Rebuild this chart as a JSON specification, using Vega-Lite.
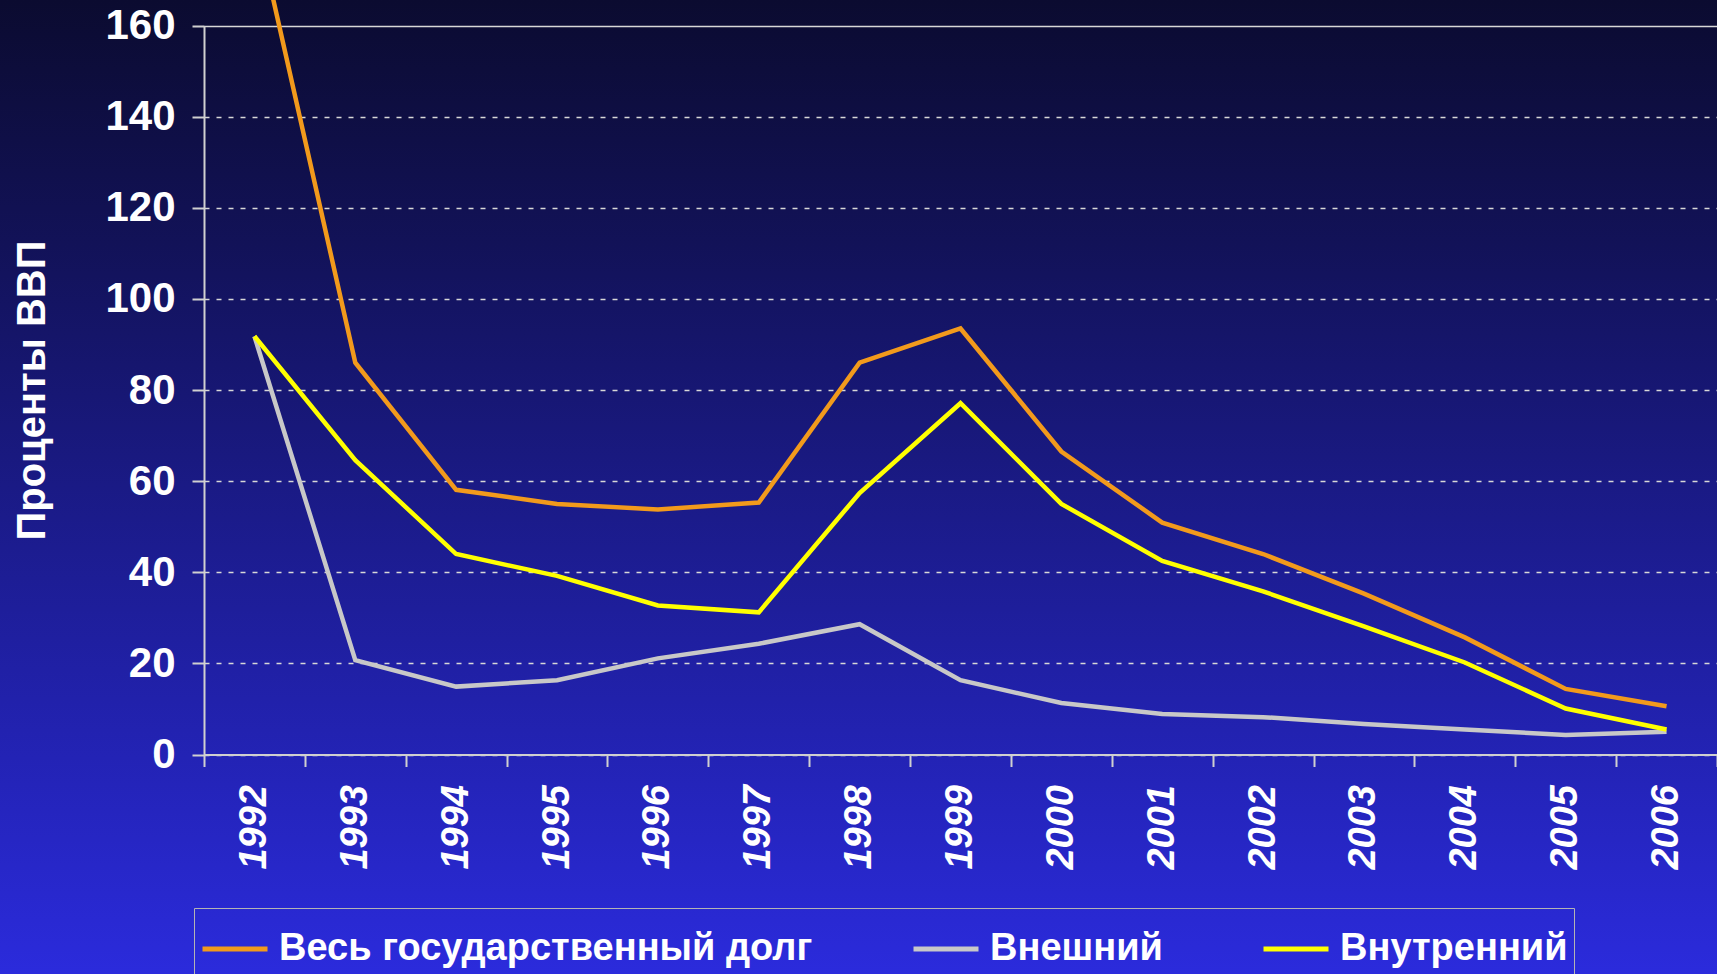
{
  "$schema": "https://vega.github.io/schema/vega-lite/v6.json",
  "width": 1717,
  "height": 974,
  "autosize": {"type": "none"},
  "padding": 0,
  "background": "#1a1a80",
  "config": {
    "font": "Liberation Sans",
    "view": {
      "stroke": null,
      "fill": {
        "gradient": "linear",
        "x1": 0, "y1": 0, "x2": 0, "y2": 1,
        "stops": [
          {"offset": 0, "color": "#0b0b30"},
          {"offset": 0.25, "color": "#121258"},
          {"offset": 0.5, "color": "#1a1a85"},
          {"offset": 0.75, "color": "#2222b0"},
          {"offset": 1, "color": "#2b2bdc"}
        ]
      }
    }
  },
  "data": {
    "values": [
      {"year": "1992", "series": "Весь государственный долг", "value": 184},
      {"year": "1993", "series": "Весь государственный долг", "value": 86},
      {"year": "1994", "series": "Весь государственный долг", "value": 58.1},
      {"year": "1995", "series": "Весь государственный долг", "value": 55},
      {"year": "1996", "series": "Весь государственный долг", "value": 53.8},
      {"year": "1997", "series": "Весь государственный долг", "value": 55.3},
      {"year": "1998", "series": "Весь государственный долг", "value": 86},
      {"year": "1999", "series": "Весь государственный долг", "value": 93.5},
      {"year": "2000", "series": "Весь государственный долг", "value": 66.5},
      {"year": "2001", "series": "Весь государственный долг", "value": 50.9},
      {"year": "2002", "series": "Весь государственный долг", "value": 44},
      {"year": "2003", "series": "Весь государственный долг", "value": 35.3},
      {"year": "2004", "series": "Весь государственный долг", "value": 25.7},
      {"year": "2005", "series": "Весь государственный долг", "value": 14.4},
      {"year": "2006", "series": "Весь государственный долг", "value": 10.6},
      {"year": "1992", "series": "Внешний", "value": 91.8},
      {"year": "1993", "series": "Внешний", "value": 20.7},
      {"year": "1994", "series": "Внешний", "value": 14.9},
      {"year": "1995", "series": "Внешний", "value": 16.3},
      {"year": "1996", "series": "Внешний", "value": 21.1},
      {"year": "1997", "series": "Внешний", "value": 24.3},
      {"year": "1998", "series": "Внешний", "value": 28.6},
      {"year": "1999", "series": "Внешний", "value": 16.3},
      {"year": "2000", "series": "Внешний", "value": 11.3},
      {"year": "2001", "series": "Внешний", "value": 8.9},
      {"year": "2002", "series": "Внешний", "value": 8.2},
      {"year": "2003", "series": "Внешний", "value": 6.7},
      {"year": "2004", "series": "Внешний", "value": 5.5},
      {"year": "2005", "series": "Внешний", "value": 4.3},
      {"year": "2006", "series": "Внешний", "value": 5.0},
      {"year": "1992", "series": "Внутренний", "value": 91.8},
      {"year": "1993", "series": "Внутренний", "value": 64.6},
      {"year": "1994", "series": "Внутренний", "value": 44},
      {"year": "1995", "series": "Внутренний", "value": 39.2},
      {"year": "1996", "series": "Внутренний", "value": 32.7},
      {"year": "1997", "series": "Внутренний", "value": 31.2},
      {"year": "1998", "series": "Внутренний", "value": 57.4},
      {"year": "1999", "series": "Внутренний", "value": 77.1},
      {"year": "2000", "series": "Внутренний", "value": 55},
      {"year": "2001", "series": "Внутренний", "value": 42.5},
      {"year": "2002", "series": "Внутренний", "value": 35.8},
      {"year": "2003", "series": "Внутренний", "value": 28.1},
      {"year": "2004", "series": "Внутренний", "value": 20.2},
      {"year": "2005", "series": "Внутренний", "value": 10.1},
      {"year": "2006", "series": "Внутренний", "value": 5.5}
    ]
  },
  "mark": {"type": "line", "strokeWidth": 4.5, "clip": false},
  "encoding": {
    "x": {
      "field": "year",
      "type": "ordinal",
      "bandPosition": 0.5,
      "scale": {"type": "band", "range": [204, 1717], "paddingInner": 0, "paddingOuter": 0},
      "axis": {
        "title": null,
        "orient": "bottom",
        "offset": -219.5,
        "tickBand": "extent",
        "labelAngle": -90,
        "labelFont": "Liberation Sans",
        "labelFontSize": 38,
        "labelFontWeight": "bold",
        "labelFontStyle": "italic",
        "labelColor": "white",
        "labelPadding": 18,
        "tickSize": 12,
        "tickColor": "#d0d0d0",
        "tickWidth": 2,
        "domainColor": "#d0d0d0",
        "domainWidth": 2,
        "grid": false
      }
    },
    "y": {
      "field": "value",
      "type": "quantitative",
      "scale": {"domain": [0, 160], "range": [754.5, 25.5], "nice": false, "zero": true},
      "axis": {
        "title": "Проценты ВВП",
        "offset": -204,
        "values": [0, 20, 40, 60, 80, 100, 120, 140, 160],
        "labelFont": "Liberation Sans",
        "labelFontSize": 42,
        "labelFontWeight": "bold",
        "labelColor": "white",
        "labelPadding": 17,
        "tickSize": 12,
        "tickColor": "#d0d0d0",
        "tickWidth": 2,
        "domainColor": "#d0d0d0",
        "domainWidth": 2,
        "grid": true,
        "gridColor": "#d8d8d8",
        "gridWidth": 1.5,
        "gridDash": {"condition": {"test": "datum.value === 160", "value": []}, "value": [5, 7]},
        "titleFont": "Liberation Sans",
        "titleFontSize": 40,
        "titleFontWeight": "bold",
        "titleColor": "white",
        "titlePadding": 52
      }
    },
    "color": {
      "field": "series",
      "type": "nominal",
      "scale": {
        "domain": ["Весь государственный долг", "Внешний", "Внутренний"],
        "range": ["#f29a1c", "#c8c8c8", "#ffff00"]
      },
      "legend": {
        "title": null,
        "orient": "none",
        "legendX": 194,
        "legendY": 908,
        "direction": "horizontal",
        "strokeColor": "#b4b4b4",
        "padding": 6,
        "labelFont": "Liberation Sans",
        "labelFontSize": 38,
        "labelFontWeight": "bold",
        "labelColor": "white",
        "labelLimit": 1000,
        "symbolType": "stroke",
        "symbolSize": 4225,
        "symbolStrokeWidth": 5,
        "labelOffset": 9,
        "columnPadding": 90
      }
    }
  }
}
